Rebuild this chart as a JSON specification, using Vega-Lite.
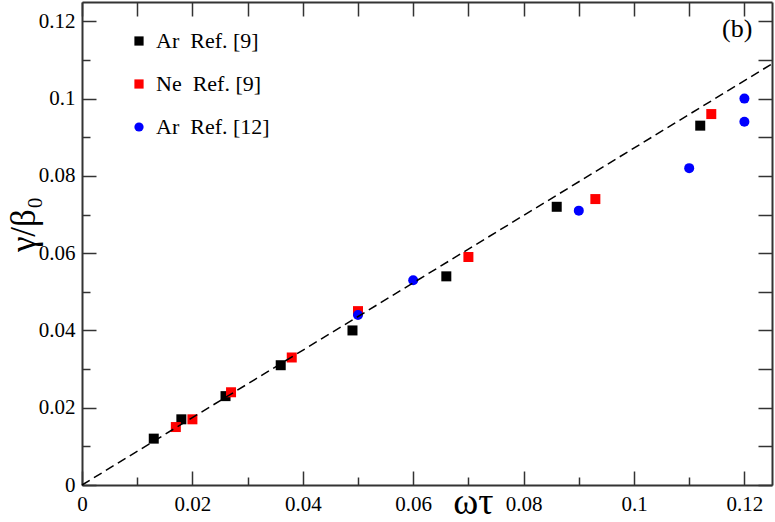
{
  "$schema": "https://vega.github.io/schema/vega-lite/v6.json",
  "width": 690,
  "height": 483,
  "autosize": "none",
  "padding": {"left": 82, "top": 2, "right": 3, "bottom": 37},
  "background": "white",
  "config": {
    "view": {"stroke": null},
    "font": "Liberation Serif",
    "axis": {
      "grid": false,
      "domainColor": "#333",
      "domainWidth": 2,
      "tickColor": "#333",
      "tickWidth": 1.5,
      "labelFont": "Liberation Serif",
      "labelFontSize": 21,
      "labelColor": "black",
      "titleFont": "Liberation Serif",
      "titleColor": "black",
      "titleFontWeight": "normal"
    },
    "legend": {
      "labelFont": "Liberation Serif",
      "labelFontSize": 22,
      "labelColor": "black"
    }
  },
  "layer": [
    {
      "data": {
        "values": [
          {"series": "Ar\u00a0 Ref. [9]", "wt": 0.013, "gb": 0.012},
          {"series": "Ar\u00a0 Ref. [9]", "wt": 0.018, "gb": 0.017},
          {"series": "Ar\u00a0 Ref. [9]", "wt": 0.026, "gb": 0.023},
          {"series": "Ar\u00a0 Ref. [9]", "wt": 0.036, "gb": 0.031},
          {"series": "Ar\u00a0 Ref. [9]", "wt": 0.049, "gb": 0.040},
          {"series": "Ar\u00a0 Ref. [9]", "wt": 0.066, "gb": 0.054},
          {"series": "Ar\u00a0 Ref. [9]", "wt": 0.086, "gb": 0.072},
          {"series": "Ar\u00a0 Ref. [9]", "wt": 0.112, "gb": 0.093},
          {"series": "Ne\u00a0 Ref. [9]", "wt": 0.017, "gb": 0.015},
          {"series": "Ne\u00a0 Ref. [9]", "wt": 0.020, "gb": 0.017},
          {"series": "Ne\u00a0 Ref. [9]", "wt": 0.027, "gb": 0.024},
          {"series": "Ne\u00a0 Ref. [9]", "wt": 0.038, "gb": 0.033},
          {"series": "Ne\u00a0 Ref. [9]", "wt": 0.050, "gb": 0.045},
          {"series": "Ne\u00a0 Ref. [9]", "wt": 0.070, "gb": 0.059},
          {"series": "Ne\u00a0 Ref. [9]", "wt": 0.093, "gb": 0.074},
          {"series": "Ne\u00a0 Ref. [9]", "wt": 0.114, "gb": 0.096},
          {"series": "Ar\u00a0 Ref. [12]", "wt": 0.050, "gb": 0.044},
          {"series": "Ar\u00a0 Ref. [12]", "wt": 0.060, "gb": 0.053},
          {"series": "Ar\u00a0 Ref. [12]", "wt": 0.090, "gb": 0.071},
          {"series": "Ar\u00a0 Ref. [12]", "wt": 0.110, "gb": 0.082},
          {"series": "Ar\u00a0 Ref. [12]", "wt": 0.120, "gb": 0.100},
          {"series": "Ar\u00a0 Ref. [12]", "wt": 0.120, "gb": 0.094}
        ]
      },
      "mark": {"type": "point", "filled": true, "opacity": 1, "size": 100},
      "encoding": {
        "x": {
          "field": "wt",
          "type": "quantitative",
          "scale": {"domain": [0, 0.125], "nice": false},
          "axis": {
            "orient": "bottom",
            "title": "ωτ",
            "titleFontSize": 38,
            "titleX": 391,
            "titleY": 28,
            "titleAlign": "center",
            "titleBaseline": "alphabetic",
            "values": [0, 0.01, 0.02, 0.03, 0.04, 0.05, 0.06, 0.07, 0.08, 0.09, 0.1, 0.11, 0.12],
            "labelExpr": "round(datum.value*100) % 2 == 0 ? format(datum.value, '~g') : ''",
            "tickSize": {"condition": {"test": "round(datum.value*100) % 2 == 0", "value": -14}, "value": -8},
            "labelPadding": 22,
            "labelFlush": false,
            "labelOverlap": false
          }
        },
        "y": {
          "field": "gb",
          "type": "quantitative",
          "scale": {"domain": [0, 0.125], "nice": false},
          "axis": {
            "orient": "left",
            "title": "γ/β₀",
            "titleFontSize": 35,
            "titleAngle": -90,
            "titleX": -48,
            "titleY": 222,
            "titleAlign": "center",
            "titleBaseline": "alphabetic",
            "values": [0, 0.01, 0.02, 0.03, 0.04, 0.05, 0.06, 0.07, 0.08, 0.09, 0.1, 0.11, 0.12],
            "labelExpr": "round(datum.value*100) % 2 == 0 ? format(datum.value, '~g') : ''",
            "tickSize": {"condition": {"test": "round(datum.value*100) % 2 == 0", "value": -14}, "value": -8},
            "labelPadding": 21,
            "labelFlush": false,
            "labelOverlap": false
          }
        },
        "color": {
          "field": "series",
          "type": "nominal",
          "sort": ["Ar\u00a0 Ref. [9]", "Ne\u00a0 Ref. [9]", "Ar\u00a0 Ref. [12]"],
          "scale": {
            "domain": ["Ar\u00a0 Ref. [9]", "Ne\u00a0 Ref. [9]", "Ar\u00a0 Ref. [12]"],
            "range": ["#000000", "#ff0000", "#0000ff"]
          },
          "legend": {
            "orient": "none",
            "legendX": 46,
            "legendY": 28,
            "title": null,
            "padding": 0,
            "rowPadding": 21,
            "labelOffset": 6,
            "symbolSize": 85,
            "symbolOpacity": 1
          }
        },
        "shape": {
          "field": "series",
          "type": "nominal",
          "scale": {
            "domain": ["Ar\u00a0 Ref. [9]", "Ne\u00a0 Ref. [9]", "Ar\u00a0 Ref. [12]"],
            "range": ["square", "square", "circle"]
          },
          "legend": null
        }
      }
    },
    {
      "data": {"values": [{"wt": 0, "gb": 0}, {"wt": 0.125, "gb": 0.109}]},
      "mark": {"type": "line", "color": "black", "strokeWidth": 1.5, "strokeDash": [9, 5]},
      "encoding": {
        "x": {
          "field": "wt",
          "type": "quantitative",
          "axis": {
            "orient": "top",
            "title": null,
            "labels": false,
            "values": [0, 0.01, 0.02, 0.03, 0.04, 0.05, 0.06, 0.07, 0.08, 0.09, 0.1, 0.11, 0.12],
            "tickSize": -14
          }
        },
        "y": {
          "field": "gb",
          "type": "quantitative",
          "axis": {
            "orient": "right",
            "title": null,
            "labels": false,
            "values": [0, 0.01, 0.02, 0.03, 0.04, 0.05, 0.06, 0.07, 0.08, 0.09, 0.1, 0.11, 0.12],
            "tickSize": -14
          }
        }
      }
    },
    {
      "data": {"values": [{"wt": 0.1187, "gb": 0.118, "label": "(b)"}]},
      "mark": {"type": "text", "fontSize": 26, "font": "Liberation Serif", "color": "black", "align": "center", "baseline": "middle"},
      "encoding": {
        "x": {"field": "wt", "type": "quantitative", "axis": null},
        "y": {"field": "gb", "type": "quantitative", "axis": null},
        "text": {"field": "label"}
      }
    }
  ],
  "resolve": {"axis": {"x": "independent", "y": "independent"}}
}
